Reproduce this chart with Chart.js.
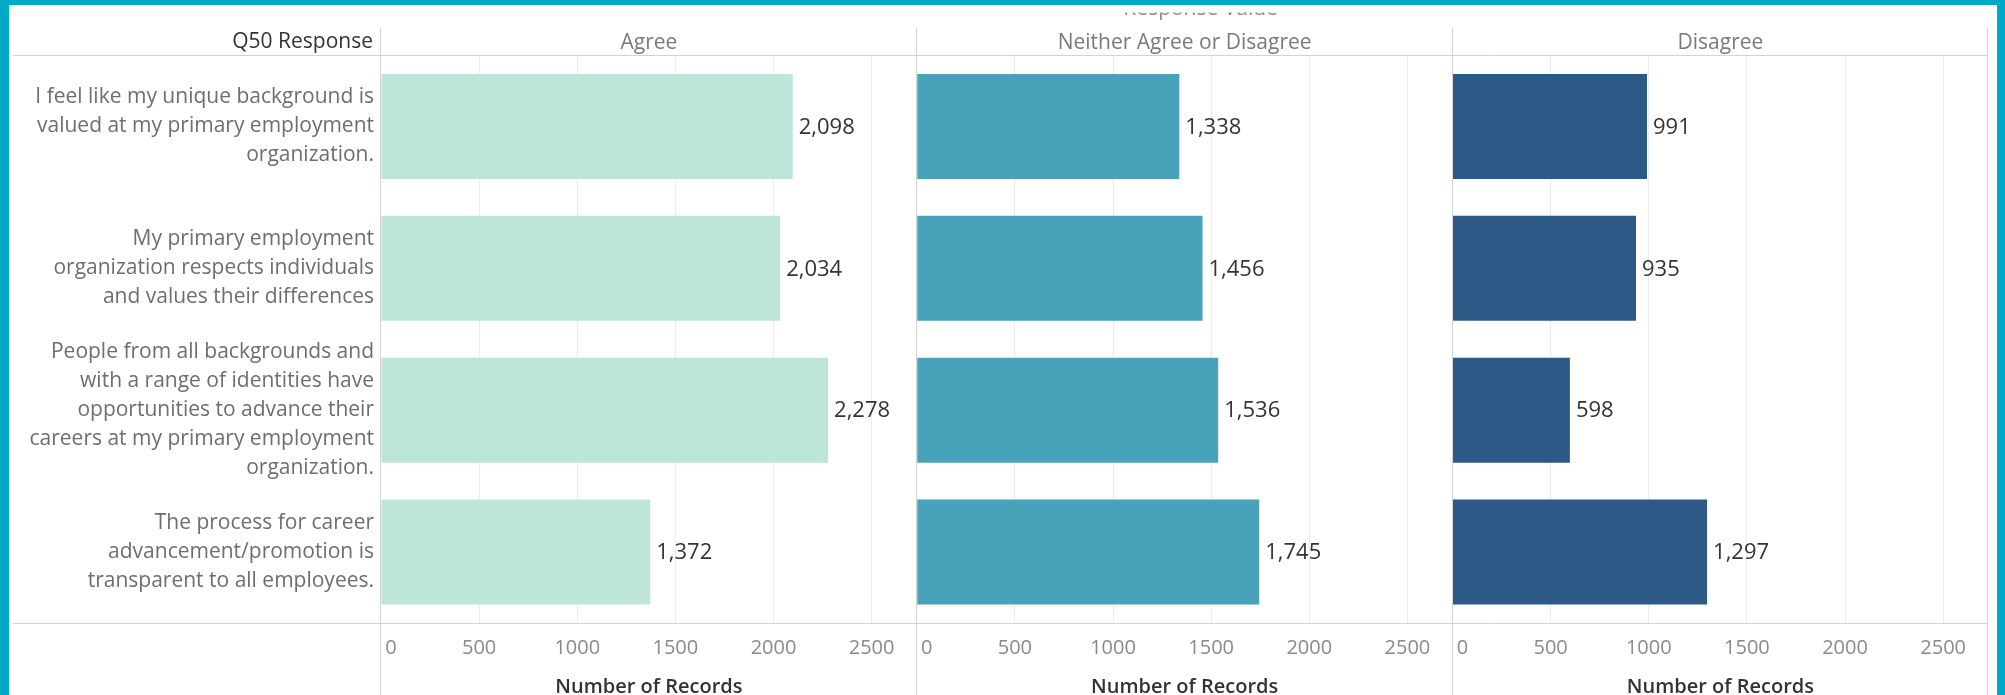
<!DOCTYPE html>
<html>
<head>
<meta charset="utf-8">
<script src="https://cdn.jsdelivr.net/npm/chart.js@4.4.1/dist/chart.umd.min.js"></script>
<style>
  html, body { margin: 0; padding: 0; }
  body { width: 2005px; height: 695px; background: #00a9c7; position: relative; overflow: hidden; }
  #wrap { position: absolute; left: 9px; top: 5px; width: 1988px; height: 690px; background: #ffffff; }
  canvas { display: block; }
</style>
</head>
<body>
<div id="wrap"><canvas id="c" width="1988" height="690"></canvas></div>
<script>
// ---- data ----
const categories = [
  ["I feel like my unique background is", "valued at my primary employment", "organization."],
  ["My primary employment", "organization respects individuals", "and values their differences"],
  ["People from all backgrounds and", "with a range of identities have", "opportunities to advance their", "careers at my primary employment", "organization."],
  ["The process for career", "advancement/promotion is", "transparent to all employees."]
];
const panelNames = ["Agree", "Neither Agree or Disagree", "Disagree"];
const agreeValues = [2098, 2034, 2278, 1372];
const neitherValues = [1338, 1456, 1536, 1745];
const disagreeValues = [991, 935, 598, 1297];
const tickValues = [0, 500, 1000, 1500, 2000, 2500];
const rowHeaderTitle = "Q50 Response";
const columnFieldTitle = "Response Value";
const axisTitle = "Number of Records";
const axisMax = 2730;

const colors = ["#bde5da", "#48a2b9", "#2c5985"];
const FONT = "'Open Sans', sans-serif";
Chart.defaults.font.family = FONT;

const seriesValues = [agreeValues, neitherValues, disagreeValues];

function bottomAxis(i) {
  return {
    type: 'linear', axis: 'x', position: 'bottom', stack: 'bottom', stackWeight: 1,
    min: 0, max: axisMax, offset: false,
    afterBuildTicks: (s) => { s.ticks = tickValues.map(v => ({value: v})); },
    afterFit: (s) => { s.height = 72; },
    grid: {
      drawTicks: false, lineWidth: 1,
      color: (ctx) => (ctx.tick && ctx.tick.value === 0) ? 'rgba(0,0,0,0)' : '#ececec'
    },
    border: { display: false },
    ticks: {
      padding: 13, color: '#8a8a8a', font: { size: 20, lineHeight: 1.2 },
      autoSkip: false, maxRotation: 0,
      callback: (v) => v === 0 ? '\u2002\u20020' : String(v)
    },
    title: {
      display: true, text: axisTitle, color: '#333333', padding: 0,
      font: { size: 20, weight: '600', lineHeight: 0.8 }
    }
  };
}
function topAxis(i) {
  return {
    type: 'linear', axis: 'x', position: 'top', stack: 'top', stackWeight: 1,
    weight: 3 - i,
    min: 0, max: axisMax,
    afterFit: (s) => { s.height = 28; },
    grid: { display: false, drawTicks: false },
    border: { display: false },
    ticks: { display: false },
    title: {
      display: true, text: panelNames[i], color: '#7a7a7a',
      padding: { top: 3, bottom: 0 }, font: { size: 21, lineHeight: 1.2 }
    }
  };
}

const framePlugin = {
  id: 'frame',
  beforeDatasetsDraw(chart) {
    const ctx = chart.ctx, ca = chart.chartArea;
    const xs = ['x0', 'x1', 'x2'].map(id => chart.scales[id]);
    ctx.save();
    ctx.strokeStyle = '#d3d3d3';
    ctx.lineWidth = 1;
    [ca.top, ca.bottom].forEach(y => {
      ctx.beginPath();
      ctx.moveTo(4, Math.round(y) + 0.5);
      ctx.lineTo(ca.right, Math.round(y) + 0.5);
      ctx.stroke();
    });
    const lines = xs.map(s => s.getPixelForValue(0));
    lines.push(xs[2].right);
    const topY = chart.scales.t0.top;
    lines.forEach(x => {
      ctx.beginPath();
      ctx.moveTo(Math.round(x) - 0.5, topY);
      ctx.lineTo(Math.round(x) - 0.5, chart.height);
      ctx.stroke();
    });
    ctx.restore();
  },
  afterDraw(chart) {
    const ctx = chart.ctx;
    const yS = chart.scales.y;
    const t0 = chart.scales.t0, t1 = chart.scales.t1;
    ctx.save();
    ctx.font = "21px " + FONT;
    ctx.fillStyle = '#333333';
    ctx.textAlign = 'right';
    ctx.textBaseline = 'middle';
    ctx.fillText(rowHeaderTitle, yS.right - 8, (t0.top + t0.bottom) / 2 + 1);
    // column field title, mostly hidden by the frame top
    ctx.beginPath();
    ctx.rect(0, 7.5, chart.width, 20);
    ctx.clip();
    ctx.font = "21px " + FONT;
    ctx.fillStyle = '#8a8a8a';
    ctx.textAlign = 'center';
    ctx.textBaseline = 'alphabetic';
    ctx.fillText(columnFieldTitle, (t1.left + t1.right) / 2 + 16, 9.5);
    ctx.restore();
  },
  afterDatasetsDraw(chart) {
    const ctx = chart.ctx;
    ctx.save();
    ctx.font = "22px " + FONT;
    ctx.fillStyle = '#333333';
    ctx.textAlign = 'left';
    ctx.textBaseline = 'middle';
    chart.data.datasets.forEach((ds, i) => {
      const meta = chart.getDatasetMeta(i);
      meta.data.forEach((bar, j) => {
        ctx.fillText(ds.data[j].toLocaleString('en-US'), bar.x + 6, bar.y + 1);
      });
    });
    ctx.restore();
  }
};

new Chart(document.getElementById('c'), {
  type: 'bar',
  data: {
    labels: categories,
    datasets: seriesValues.map((vals, i) => ({
      label: panelNames[i],
      data: vals,
      xAxisID: 'x' + i,
      yAxisID: 'y',
      backgroundColor: colors[i],
      borderWidth: 0,
      grouped: false,
      categoryPercentage: 1,
      barPercentage: 0.74
    }))
  },
  options: {
    indexAxis: 'y',
    responsive: false,
    animation: false,
    layout: { padding: { top: 15, right: 2, bottom: 0, left: 0 } },
    plugins: { legend: { display: false }, tooltip: { enabled: false }, title: { display: false } },
    scales: {
      y: {
        type: 'category', axis: 'y', position: 'left', offset: true,
        afterFit: (s) => { s.width = 372; },
        grid: { display: false, drawTicks: false },
        border: { display: false },
        ticks: { padding: 7, color: '#6e6e6e', font: { size: 21, lineHeight: 1.38 }, autoSkip: false }
      },
      x0: bottomAxis(0), x1: bottomAxis(1), x2: bottomAxis(2),
      t0: topAxis(0), t1: topAxis(1), t2: topAxis(2)
    }
  },
  plugins: [framePlugin]
});
</script>
</body>
</html>
